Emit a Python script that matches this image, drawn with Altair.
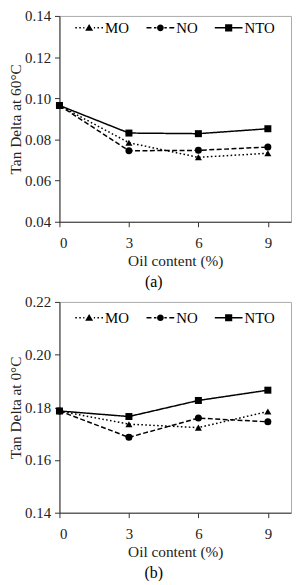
import math
import altair as alt
import pandas as pd

# ---------------- data ----------------
oil = [0, 3, 6, 9]
series = ["MO", "NO", "NTO"]

a_mo = [0.0965, 0.0784, 0.0713, 0.0733]
a_no = [0.0965, 0.0745, 0.0747, 0.0763]
a_nto = [0.0965, 0.0831, 0.0828, 0.0852]

b_mo = [0.1786, 0.1736, 0.1723, 0.1784]
b_no = [0.1786, 0.1686, 0.1759, 0.1745]
b_nto = [0.1786, 0.1765, 0.1826, 0.1865]

a_ticks = [0.04, 0.06, 0.08, 0.10, 0.12, 0.14]
b_ticks = [0.14, 0.16, 0.18, 0.20, 0.22]
x_ticks = [0, 3, 6, 9]

FONT = "Liberation Serif"


def frame(vals):
    rows = []
    for s, v in zip(series, vals):
        for x, y in zip(oil, v):
            rows.append({"Oil": x, "Tan": y, "Series": s})
    return pd.DataFrame(rows)


# ---------------- legend symbols (line + marker drawn as one filled path) ----------------
S = 14.0  # half width of the legend symbol in px (symbolSize = (2*S)^2)
H = 0.75  # half thickness of the legend line in px


def u(v):
    return f"{v / S:.4f}"


def rect(a, b):
    return f"M{u(a)},{u(-H)}L{u(b)},{u(-H)}L{u(b)},{u(H)}L{u(a)},{u(H)}Z"


def side_segments(on, off, gap):
    segs = []
    x = -S
    while x < -gap - 0.01:
        e = min(x + on, -gap)
        segs.append((x, e))
        x += on + off
    parts = []
    for a, b in segs:
        parts.append(rect(a, b))
        parts.append(rect(-b, -a))
    return "".join(parts)


tri = f"M0,{u(-3.8)}L{u(4.0)},{u(3.0)}L{u(-4.0)},{u(3.0)}Z"
circ = "M" + "L".join(
    f"{u(3.4 * math.cos(2 * math.pi * k / 16))},{u(3.4 * math.sin(2 * math.pi * k / 16))}"
    for k in range(16)
) + "Z"
sq = f"M{u(-3.6)},{u(-3.6)}L{u(3.6)},{u(-3.6)}L{u(3.6)},{u(3.6)}L{u(-3.6)},{u(3.6)}Z"

path_mo = side_segments(1.6, 2.4, 4.8) + tri
path_no = side_segments(5.0, 2.5, 4.0) + circ
path_nto = rect(-S, -3.0) + rect(3.0, S) + sq


def panel(vals, domain, ticks, ytitle, caption, height, legend_y):
    df = frame(vals)
    base = alt.Chart(df)
    x = alt.X("Oil:Q", title="Oil content (%)",
              scale=alt.Scale(domain=[0, 10], nice=False),
              axis=alt.Axis(values=x_ticks, format="d"))
    y = alt.Y("Tan:Q", title=ytitle,
              scale=alt.Scale(domain=domain, nice=False, zero=False),
              axis=alt.Axis(values=ticks, format=".2f"))

    lines = base.mark_line(color="black", strokeWidth=1.5).encode(
        x=x, y=y,
        strokeDash=alt.StrokeDash(
            "Series:N",
            scale=alt.Scale(domain=series, range=[[1.6, 2.4], [5, 2.5], [1, 0]]),
            legend=None),
        detail="Series:N",
    )
    points = base.mark_point(filled=True, color="black", size=50, opacity=1).encode(
        x=x, y=y,
        shape=alt.Shape(
            "Series:N",
            scale=alt.Scale(domain=series, range=["triangle-up", "circle", "square"]),
            legend=None),
    )
    legend_layer = base.transform_filter("false").mark_point(
        filled=True, color="black", opacity=1
    ).encode(
        x=x, y=y,
        shape=alt.Shape(
            "Series:N",
            scale=alt.Scale(domain=series, range=[path_mo, path_no, path_nto]),
            legend=alt.Legend(
                title=None, orient="none", legendX=16, legendY=legend_y,
                direction="horizontal", symbolSize=(2 * S) ** 2,
                symbolFillColor="black", symbolStrokeWidth=0, symbolOpacity=1,
                labelFont=FONT, labelFontSize=15, labelColor="black",
                labelOffset=2, columnPadding=17),
        ),
    )
    return (
        alt.layer(lines, points, legend_layer)
        .resolve_scale(shape="independent", strokeDash="independent")
        .properties(
            width=234, height=height,
            title=alt.TitleParams(caption, orient="bottom", fontSize=16,
                                  fontWeight="normal", font=FONT, color="black",
                                  frame="bounds", anchor="middle", offset=5, dx=4),
        )
    )


pa = panel([a_mo, a_no, a_nto], [0.04, 0.14], a_ticks, "Tan Delta at 60°C", "(a)", 208, -2)
pb = panel([b_mo, b_no, b_nto], [0.14, 0.22], b_ticks, "Tan Delta at 0°C", "(b)", 213, 2)

chart = (
    alt.vconcat(pa, pb, spacing=4)
    .properties(padding={"left": 0, "top": -3, "right": 0, "bottom": -3})
    .configure(font=FONT)
    .configure_view(stroke="#aaaaaa", strokeWidth=1)
    .configure_axis(
        grid=False, domainColor="#333333", tickColor="#333333",
        labelColor="#222222", titleColor="#222222",
        labelFont=FONT, titleFont=FONT, labelFontSize=15, titleFontSize=15.5,
        titleFontWeight="normal", tickSize=5, domainWidth=1,
    )
    .configure_axisX(labelPadding=9, titlePadding=3)
    .configure_axisY(labelPadding=4, titlePadding=1)
)

chart.save("out.html", embed_options={"renderer": "svg", "actions": False})
